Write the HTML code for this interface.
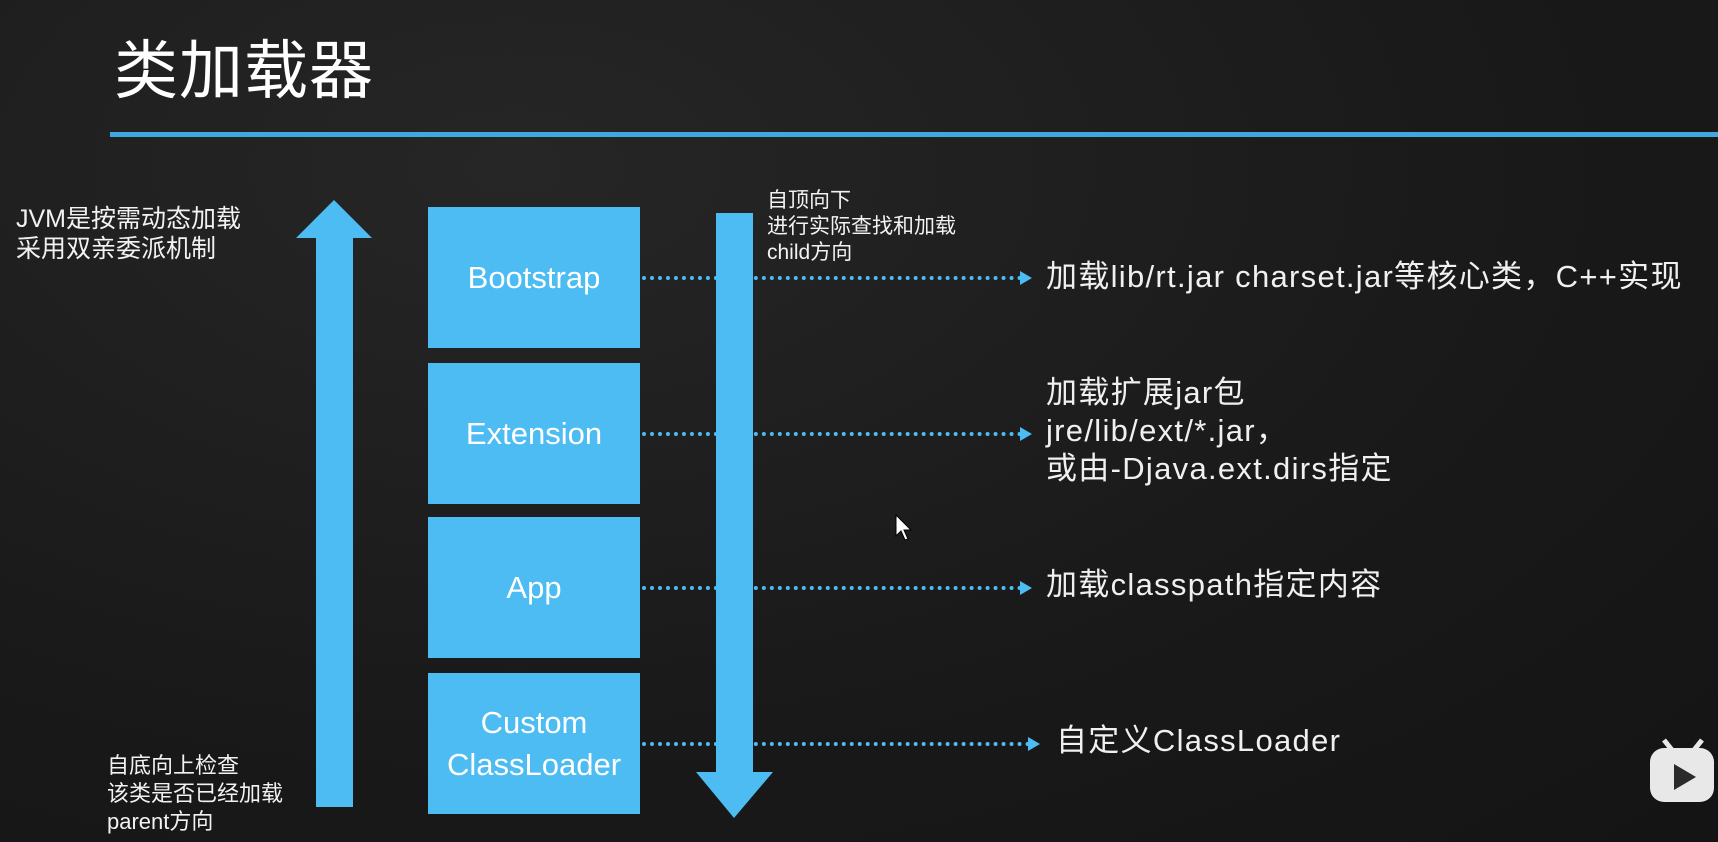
<!DOCTYPE html>
<html><head><meta charset="utf-8"><style>
html,body{margin:0;padding:0}
body{width:1718px;height:842px;position:relative;overflow:hidden;background:#1b1b1b;
background-image:radial-gradient(ellipse at 30% 20%,#262626 0%,#191919 60%,#141414 100%);
font-family:"Liberation Sans","Noto Sans CJK SC",sans-serif;color:#f2f2f2}
.a{position:absolute;white-space:nowrap}
.box{position:absolute;left:428px;width:212px;height:141px;background:#4cbcf2;color:#fff;font-size:31px;display:flex;align-items:center;justify-content:center;text-align:center;line-height:42px}
.dot{position:absolute;left:642px;width:380px;height:0;border-top:4px dotted #4cbcf2}
.tri{position:absolute;width:0;height:0;border-top:7px solid transparent;border-bottom:7px solid transparent;border-left:12px solid #4cbcf2}
.rt{position:absolute;left:1046px;font-size:31px;line-height:38px;color:#f0f0f0;white-space:nowrap;letter-spacing:1.3px}
</style></head><body>
<div class="a" style="left:114px;top:20px;font-size:64px;color:#fff;letter-spacing:1px">类加载器</div>
<div class="a" style="left:110px;top:132px;width:1608px;height:5px;background:#3fa8e0"></div>

<div class="a" style="left:16px;top:204px;font-size:25px;line-height:30px">JVM是按需动态加载<br>采用双亲委派机制</div>

<svg class="a" style="left:0;top:0" width="1718" height="842">
<polygon points="334,200 372,238 353,238 353,807 316,807 316,238 296,238" fill="#4cbcf2"/>
<polygon points="716,213 753,213 753,772 773,772 734,818 696,772 716,772" fill="#4cbcf2"/>
</svg>

<div class="box" style="top:207px">Bootstrap</div>
<div class="box" style="top:363px">Extension</div>
<div class="box" style="top:517px">App</div>
<div class="box" style="top:673px">Custom<br>ClassLoader</div>

<div class="dot" style="top:276px"></div><div class="tri" style="left:1020px;top:271px"></div>
<div class="dot" style="top:432px"></div><div class="tri" style="left:1020px;top:427px"></div>
<div class="dot" style="top:586px"></div><div class="tri" style="left:1020px;top:581px"></div>
<div class="dot" style="top:742px;width:388px"></div><div class="tri" style="left:1028px;top:737px"></div>

<div class="a" style="left:767px;top:188px;font-size:21px;line-height:26px">自顶向下<br>进行实际查找和加载<br>child方向</div>
<div class="a" style="left:107px;top:752px;font-size:22px;line-height:28px">自底向上检查<br>该类是否已经加载<br>parent方向</div>

<div class="rt" style="top:258px">加载lib/rt.jar charset.jar等核心类，C++实现</div>
<div class="rt" style="top:374px">加载扩展jar包<br>jre/lib/ext/*.jar，<br>或由-Djava.ext.dirs指定</div>
<div class="rt" style="top:566px">加载classpath指定内容</div>
<div class="rt" style="top:722px;left:1056px">自定义ClassLoader</div>

<svg class="a" style="left:895px;top:514px" width="20" height="28"><polygon points="1,1 1,22 6,17 10,26 13,25 9,16 16,16" fill="#fff" stroke="#000" stroke-width="1"/></svg>
<div class="a" style="left:1650px;top:748px;width:64px;height:54px;border-radius:14px;background:#e8e8e8"></div>
<svg class="a" style="left:1650px;top:736px" width="66" height="66"><line x1="14" y1="4" x2="22" y2="14" stroke="#e8e8e8" stroke-width="5"/><line x1="52" y1="4" x2="44" y2="14" stroke="#e8e8e8" stroke-width="5"/><polygon points="24,28 24,54 46,41" fill="#2a2a2a"/></svg>
</body></html>
